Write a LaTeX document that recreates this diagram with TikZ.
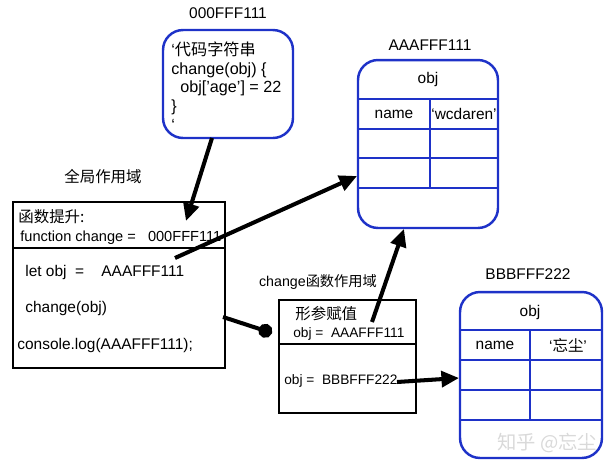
\documentclass[tikz,border=0pt]{standalone}
\usepackage{fontspec}
\setmainfont{Liberation Sans}
\newfontfamily\cjk{Noto Sans CJK SC}
\usepackage{tikz}
\usetikzlibrary{arrows.meta}
\usetikzlibrary{positioning}
\definecolor{boxblue}{RGB}{30,50,200}

\tikzset{
  lbl/.style={font=\fontsize{8.8}{10.5}\selectfont,inner sep=0pt},
  code/.style={lbl,anchor=west},
  scopebox/.style={draw=black,line width=1.1pt,inner sep=0pt},
  heapbox/.style={draw=boxblue,line width=1.4pt,rounded corners=0.4cm,inner sep=0pt},
  ptr/.style={line width=2.3pt,-{Triangle[length=10pt,width=9pt]}},
}

\begin{document}
\begin{tikzpicture}[x=0.02cm,y=-0.02cm]
  \useasboundingbox (0,0) rectangle (613,474);

  % function source
  \node[lbl] (srcaddr) at (228,13) {000FFF111};
  \node[heapbox,minimum width=2.6cm,minimum height=2.16cm] (src) at (228,84){};
  \node[code,align=left,font=\fontsize{9.2}{10.6}\selectfont] (srctext) at (171,86)
    {‘{\cjk 代码字符串}\\change(obj) \{\\\ \ obj['age'] = 22\\\}\\‘};

  % global scope
  \node[lbl] (globallbl) at (103,177) {{\cjk 全局作用域}};
  \node[scopebox,minimum width=4.24cm,minimum height=3.32cm] (global) at (119,285){};
  \draw[line width=1.1pt] (global.west |- 0,248) -- (global.east |- 0,248);
  \node[code] (hoist) at (18,217) {{\cjk 函数提升:}};
  \node[code,font=\fontsize{8.3}{10}\selectfont] (fnline) at (20,238) {function change =\ \ \ 000FFF111};
  \node[code] (letobj) at (25,272) {let obj\ \ =\ \ \ \ AAAFFF111};
  \node[code] (callobj) at (25,308) {change(obj)};
  \node[code] (logobj) at (17,345) {console.log(AAAFFF111);};

  % change scope
  \node[lbl,font=\fontsize{8.1}{10}\selectfont] (changelbl) at (318,282) {change{\cjk 函数作用域}};
  \node[scopebox,minimum width=2.74cm,minimum height=2.26cm] (local) at (347.5,356.5){};
  \draw[line width=1.1pt] (local.west |- 0,344) -- (local.east |- 0,344);
  \node[code] (param) at (295,314) {{\cjk 形参赋值}};
  \node[code,font=\fontsize{7.8}{10}\selectfont] (paramobj) at (293,334) {obj =\ \ AAAFFF111};
  \node[code,font=\fontsize{7.8}{10}\selectfont] (newobj) at (284,381) {obj =\ \ BBBFFF222};

  % heap object A
  \node[lbl] (aaaaddr) at (430,45) {AAAFFF111};
  \node[heapbox,minimum width=2.8cm,minimum height=3.36cm] (aaa) at (428,144){};
  \foreach \y in {99,129,158,188}
    \draw[boxblue,line width=1.4pt] (aaa.west |- 0,\y) -- (aaa.east |- 0,\y);
  \draw[boxblue,line width=1.4pt] (430,99) -- (430,188);
  \node[lbl] (aaaname) at (428,79) {obj};
  \node[lbl] (aaakey) at (394,114) {name};
  \node[lbl] (aaaval) at (464,114) {‘wcdaren’};

  % heap object B
  \node[lbl] (bbbaddr) at (528,274) {BBBFFF222};
  \node[heapbox,minimum width=2.84cm,minimum height=3.32cm] (bbb) at (531,375){};
  \foreach \y in {330,360,390,420}
    \draw[boxblue,line width=1.4pt] (bbb.west |- 0,\y) -- (bbb.east |- 0,\y);
  \draw[boxblue,line width=1.4pt] (530,330) -- (530,420);
  \node[lbl] (bbbname) at (530,312) {obj};
  \node[lbl] (bbbkey) at (495,345) {name};
  \node[lbl] (bbbval) at (568,345) {‘{\cjk 忘尘}’};

  \node[lbl,text=black!15,font=\fontsize{11}{12}\selectfont] (mark) at (547,443) {{\cjk 知乎 @忘尘}};

  % pointers
  \coordinate (srcout) at (212,138);
  \coordinate (fntip) at (186,221);
  \coordinate (letout) at (175,258);
  \coordinate (aaain) at (357,176);
  \coordinate (callout) at (223,317);
  \coordinate (localin) at (272,333);
  \coordinate (paramout) at (372,322);
  \coordinate (aaabot) at (404,229);
  \coordinate (newout) at (397,382);
  \coordinate (bbbin) at (459,378);
  \draw[ptr] (srcout) -- (fntip);
  \draw[ptr] (letout) -- (aaain);
  \draw[line width=2.3pt,-{Circle[length=8pt]}] (callout) -- (localin);
  \draw[ptr] (paramout) -- (aaabot);
  \draw[ptr] (newout) -- (bbbin);
\end{tikzpicture}
\end{document}
